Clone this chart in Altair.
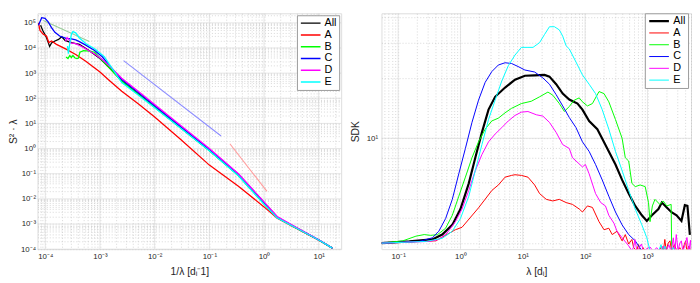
import altair as alt
import pandas as pd

SERIES = ["All", "A", "B", "C", "D", "E"]
COLORS = ["#000000", "#ff0000", "#00ff00", "#0000ff", "#ff00ff", "#00ffff"]

# ---------------- left panel: S^2 * lambda vs 1/lambda ----------------
L_ALL_X = [8.2e-5, 9.0e-5, 1.05e-4, 1.2e-4, 1.3e-4, 1.5e-4, 1.75e-4, 2.0e-4, 2.3e-4, 2.8e-4, 3.6e-4, 4.2e-4, 6.3e-4, 1.0e-3,
           1.5e-3, 2.5e-3, 5e-3, 1e-2, 3e-2, 0.1, 0.34, 1.0, 1.74, 4.0, 10.0, 17.8]
L_ALL_Y = [8e4, 5e4, 2.6e4, 1.15e4, 1.6e4, 1.9e4, 2.2e4, 2.8e4, 2.0e4, 1.7e4, 1.5e4, 1.4e4, 8e3, 3.8e3,
           1.6e3, 500, 150, 45, 6.7, 0.84, 0.087, 6.5e-3, 1.8e-3, 6.7e-4, 2.3e-4, 1.1e-4]
L_A_X = [7.5e-5, 8.0e-5, 9.2e-5, 1.05e-4, 1.16e-4, 1.3e-4, 1.6e-4, 2.4e-4, 3.6e-4, 5.5e-4, 1.0e-3,
         1.5e-3, 2.5e-3, 5e-3, 1e-2, 3e-2, 0.1, 0.34, 1.0, 1.74, 4.0, 10.0, 17.8]
L_A_Y = [1.0e5, 5e4, 3.5e4, 3e4, 1.65e4, 1.9e4, 1.4e4, 9e3, 5.5e3, 3e3, 1.1e3,
         500, 190, 60, 18, 2.3, 0.22, 0.032, 4.8e-3, 1.7e-3, 6.5e-4, 2.25e-4, 1.1e-4]
L_B_X = [2.4e-4, 2.6e-4, 2.8e-4, 3.0e-4, 3.2e-4, 3.5e-4, 3.8e-4, 4.0e-4, 4.3e-4, 5.0e-4, 6.5e-4, 8.0e-4, 1.0e-3,
         1.5e-3, 2.5e-3, 5e-3, 1e-2, 3e-2, 0.1, 0.34, 1.0, 1.74, 4.0, 10.0, 17.8]
L_B_Y = [4.4e3, 3.8e3, 5e3, 4.2e3, 5e3, 4e3, 3.8e3, 3.9e3, 6.8e3, 7.9e3, 7.5e3, 6.8e3, 4e3,
         1.6e3, 480, 145, 44, 6.6, 0.83, 0.085, 6.4e-3, 1.8e-3, 6.7e-4, 2.3e-4, 1.1e-4]
L_C_X = [7.5e-5, 8.6e-5, 9.9e-5, 1.13e-4, 1.3e-4, 1.5e-4, 1.83e-4, 2.4e-4, 3.0e-4, 3.6e-4, 4.2e-4, 5.5e-4, 8.0e-4, 1.1e-3,
         1.5e-3, 2.5e-3, 5e-3, 1e-2, 3e-2, 0.1, 0.34, 1.0, 1.74, 4.0, 10.0, 17.8]
L_C_Y = [8e4, 1.6e5, 1.5e5, 1.1e5, 6.5e4, 4.2e4, 3e4, 2.4e4, 2.3e4, 2.1e4, 1.8e4, 1.3e4, 8e3, 4.5e3,
         2.0e3, 560, 170, 50, 7.4, 0.92, 0.095, 7.2e-3, 1.9e-3, 6.9e-4, 2.35e-4, 1.1e-4]
L_D_X = [2.35e-4, 2.5e-4, 2.7e-4, 2.9e-4, 3.6e-4, 4.8e-4, 8.2e-4, 1.1e-3,
         1.5e-3, 2.5e-3, 5e-3, 1e-2, 3e-2, 0.1, 0.34, 1.0, 1.74, 4.0, 10.0, 17.8]
L_D_Y = [1.8e4, 2.6e4, 2.2e4, 1.6e4, 1.5e4, 1.1e4, 5.5e3, 3.5e3,
         1.9e3, 630, 190, 56, 8.2, 1.0, 0.10, 7.6e-3, 2.0e-3, 7.0e-4, 2.35e-4, 1.1e-4]
L_E_X = [2.55e-4, 2.65e-4, 2.8e-4, 3.0e-4, 3.2e-4, 3.6e-4, 4.2e-4, 5.5e-4, 8.2e-4, 1.2e-3,
         1.5e-3, 2.5e-3, 5e-3, 1e-2, 3e-2, 0.1, 0.34, 1.0, 1.74, 4.0, 10.0, 17.8]
L_E_Y = [1.2e4, 6e3, 1.5e4, 3.5e4, 4.5e4, 4e4, 2.5e4, 1.5e4, 9e3, 4.5e3,
         2.2e3, 420, 135, 42, 6.5, 0.82, 0.083, 6.2e-3, 1.75e-3, 6.6e-4, 2.3e-4, 1.1e-4]

# reference slopes (start, end)
REF_COLORS = ["#99cc99", "#8c8cff", "#ff9c9c"]
REF_X = [[9.2e-5, 6.4e-4], [2.7e-3, 0.164], [0.237, 1.13]]
REF_Y = [[1.25e5, 1.8e4], [3.16e3, 3.16], [1.56, 0.02]]

# ---------------- right panel: SDK vs lambda ----------------
R_ALL_X = [0.054, 0.151, 0.355, 0.51, 0.74, 1.0, 1.36, 1.73, 2.21, 2.82, 3.6, 5.2, 7.5, 10.8, 15.5, 22.3, 26.8,
           34.3, 43.7, 55.7, 75.5, 90.6, 116, 157, 178, 240, 307, 392, 500, 637, 813, 977, 1180, 1500, 1700,
           2040, 2430, 2930, 3510, 3980, 4380, 4790]
R_ALL_Y = [3.0, 3.06, 3.13, 3.31, 3.70, 4.44, 5.96, 8.0, 10.7, 13.9, 16.1, 17.9, 19.6, 20.5, 20.6, 20.7, 20.3,
           18.6, 16.7, 15.6, 14.9, 13.9, 12.2, 11.1, 10.3, 8.6, 7.4, 6.2, 5.3, 4.6, 4.13, 3.87, 4.13, 4.44, 4.78,
           4.52, 4.28, 4.13, 3.87, 4.64, 4.6, 3.3]
R_A_X = [0.054, 0.40, 0.83, 1.06, 1.95, 3.2, 4.06, 5.2, 6.6, 7.5, 9.5, 12.1, 15.5, 18.6, 23.8, 30.3, 38.6, 49.6,
         62.7, 80.4, 90.6, 109, 131, 167, 201, 240, 272, 325, 392, 441, 500, 563, 600, 670, 720, 780, 850, 950,
         1100, 1300, 1500, 1700, 1800, 1900, 2000, 2150, 2300, 2450, 2700, 3000, 3300, 3600, 3900, 4100, 4300,
         4600, 5000]
R_A_Y = [3.0, 3.08, 3.5, 3.6, 4.5, 5.5, 5.85, 6.4, 6.53, 6.58, 6.53, 6.4, 5.85, 5.3, 4.96, 4.87, 4.96, 4.78,
         4.68, 4.44, 4.29, 4.6, 4.52, 3.84, 3.5, 3.56, 3.31, 3.44, 3.08, 3.31, 2.97, 3.13, 2.85, 2.75, 2.95, 2.72,
         2.85, 2.7, 2.7, 2.7, 2.72, 2.9, 2.72, 3.13, 2.75, 3.0, 3.08, 2.72, 2.95, 2.72, 2.85, 2.72, 2.95, 3.08,
         2.72, 2.9, 2.72]
R_B_X = [0.054, 0.119, 0.193, 0.262, 0.334, 0.43, 0.578, 0.74, 0.94, 1.2, 1.53, 1.95, 2.49, 3.18, 4.06, 5.2,
         6.6, 9.5, 13.7, 18.6, 25.3, 30.3, 38.6, 46.5, 55.7, 67, 80.4, 90.6, 109, 131, 167, 201, 240, 307, 392,
         441, 500, 563, 637, 764, 920, 1040, 1100, 1200, 1320, 1580, 1790, 2040, 2400, 2450]
R_B_Y = [3.0, 3.08, 3.25, 3.31, 3.28, 3.31, 3.56, 4.13, 5.14, 6.4, 8.0, 9.6, 11.1, 12.2, 12.6, 13.4,
         14.1, 14.9, 15.3, 16.1, 17.0, 16.4, 14.9, 13.6, 14.4, 15.5, 15.9, 15.2, 14.5, 14.9, 17.1, 16.7, 15.2,
         12.4, 10.0, 8.0, 7.7, 5.96, 5.74, 5.85, 5.74, 4.78, 3.84, 4.6, 4.96, 4.68, 4.87, 4.6, 4.68, 2.7]
R_C_X = [0.054, 0.218, 0.355, 0.45, 0.578, 0.74, 0.94, 1.2, 1.53, 1.95, 2.49, 3.18, 4.06, 5.2, 6.6, 8.4, 10.8,
         15.5, 21, 26.8, 34.3, 43.7, 55.7, 71.4, 90.6, 116, 147, 188, 240, 307, 392, 500, 637, 813]
R_C_Y = [3.0, 3.06, 3.19, 3.44, 3.98, 4.96, 6.65, 8.9, 12, 15.5, 19, 21.5, 23.2, 23.8, 23.6, 22.8, 21.9,
         21.4, 20, 18.6, 16.5, 14.5, 12.7, 11.3, 9.6, 8.6, 7.4, 6.2, 5.14, 4.29, 3.70, 3.31, 3.08, 2.75]
R_D_X = [0.054, 0.315, 0.45, 0.61, 0.83, 1.06, 1.36, 1.73, 2.21, 2.82, 3.6, 4.6, 5.85, 7.5, 9.5, 12.1, 16.5,
         21, 26.8, 34.3, 43.7, 55.7, 62.7, 90.6, 101, 116, 147, 178, 212, 240, 290, 325, 392, 500, 560, 600,
         630, 680, 740, 800, 870, 950, 1100, 1250, 1400, 1600, 1800, 2000, 2200, 2400, 2600, 2750, 2900, 3100,
         3300, 3500, 3700, 4000, 4300, 4600, 4900, 5000]
R_D_Y = [3.0, 3.06, 3.13, 3.37, 3.84, 4.44, 5.5, 6.9, 8.3, 9.6, 10.5, 11.3, 12.2, 13.0, 13.5, 13.6, 13.1,
         12.9, 12.0, 10.7, 9.3, 8.9, 8.0, 7.2, 7.4, 6.65, 5.3, 4.78, 4.6, 4.13, 3.77, 3.44, 3.19, 2.91, 2.75, 2.87,
         3.13, 2.72, 2.85, 2.97, 2.72, 2.8, 2.87, 2.72, 2.85, 2.72, 2.9, 2.72, 2.95, 2.72, 3.19, 2.72, 3.31, 2.75,
         3.0, 3.08, 2.72, 2.95, 3.2, 2.72, 3.1, 2.8]
R_E_X = [0.054, 0.278, 0.51, 0.74, 1.0, 1.36, 1.73, 2.21, 2.82, 3.6, 4.6, 5.85, 7.5, 9.5, 12.1, 14.6, 18.6,
         22.3, 26.8, 32.2, 38.6, 43.7, 49.6, 55.7, 71.4, 90.6, 116, 147, 188, 240, 307, 392, 500, 637, 813, 977,
         1100, 1300, 1500, 1650, 1750, 1900, 2050, 2300, 2600, 2800, 3300, 3600, 4200]
R_E_Y = [3.0, 3.06, 3.17, 3.44, 3.98, 5.14, 6.9, 9.3, 12.4, 15.5, 19.3, 23.0, 26.0, 28.4, 28.4, 28.4, 30,
         32.9, 36, 36, 34.7, 32.3, 28.9, 27.9, 24, 20.7, 18.6, 16.7, 13.9, 11.1, 8.6, 6.9, 5.5, 4.44, 3.70, 3.19,
         2.75, 2.72, 2.72, 2.95, 2.72, 2.9, 2.72, 2.72, 2.85, 2.72, 2.72, 2.72, 2.72]

LEFT = {"All": (L_ALL_X, L_ALL_Y), "A": (L_A_X, L_A_Y), "B": (L_B_X, L_B_Y),
        "C": (L_C_X, L_C_Y), "D": (L_D_X, L_D_Y), "E": (L_E_X, L_E_Y)}
RIGHT = {"All": (R_ALL_X, R_ALL_Y), "A": (R_A_X, R_A_Y), "B": (R_B_X, R_B_Y),
         "C": (R_C_X, R_C_Y), "D": (R_D_X, R_D_Y), "E": (R_E_X, R_E_Y)}


def long_df(d):
    rows = []
    for s in SERIES:
        xs, ys = d[s]
        for i, (x, y) in enumerate(zip(xs, ys)):
            rows.append({"s": s, "x": x, "y": y, "i": i})
    return pd.DataFrame(rows)


left_df = long_df(LEFT)
right_df = long_df(RIGHT)

SUP = str.maketrans("-0123456789", "⁻⁰¹²³⁴⁵⁶⁷⁸⁹")


def log_ticks(e0, e1, lo, hi):
    majors, allv = [], []
    for e in range(e0, e1 + 1):
        base = float(f"1e{e}")
        for m in range(1, 10):
            v = base if m == 1 else m * base
            if lo * 0.999 <= v <= hi * 1.001:
                allv.append(v)
                if m == 1:
                    majors.append((v, e))
    expr = " : ".join(f"datum.value == {v!r} ? '10{str(e).translate(SUP)}'" for v, e in majors) + " : ''"
    return allv, [v for v, _ in majors], expr


FONT = "Liberation Sans"
TXT = "#262626"
MINOR = dict(gridDash=[1, 2], gridColor="#bdbdbd", gridWidth=0.6)


def make_axis(values, expr, title, **kw):
    return alt.Axis(values=values, labelExpr=expr, title=title, grid=True, ticks=False, domain=False,
                    labelOverlap=False, labelFont=FONT, labelFontSize=8, labelColor=TXT,
                    titleFont=FONT, titleFontSize=10.5, titleFontWeight="normal", titleColor=TXT,
                    **MINOR, **kw)


def panel(df, xdom, ydom, xt, yt, xtitle, ytitle, legend_xy, widths, ylab_pad, ytitle_pad):
    xall, xmaj, xexpr = log_ticks(*xt, *xdom)
    yall, ymaj, yexpr = log_ticks(*yt, *ydom)
    xs = alt.Scale(type="log", domain=xdom, nice=False)
    ys = alt.Scale(type="log", domain=ydom, nice=False)
    xax = make_axis(xall, xexpr, xtitle, labelPadding=4, titlePadding=6)
    yax = make_axis(yall, yexpr, ytitle, labelPadding=ylab_pad, titlePadding=ytitle_pad)
    vgrid = alt.Chart(pd.DataFrame({"v": xmaj})).mark_rule(color="#dadada", strokeWidth=0.7).encode(
        x=alt.X("v:Q", scale=xs, axis=xax))
    hgrid = alt.Chart(pd.DataFrame({"v": ymaj})).mark_rule(color="#dadada", strokeWidth=0.7).encode(
        y=alt.Y("v:Q", scale=ys, axis=yax))
    leg = alt.Legend(title=None, orient="none", legendX=legend_xy[0], legendY=legend_xy[1],
                     symbolType="stroke", symbolSize=400, symbolStrokeWidth=1.5, clipHeight=12,
                     labelFont=FONT, labelFontSize=11, labelColor="#000000", padding=2,
                     strokeColor="#9a9a9a", fillColor="white", rowPadding=0, labelOffset=3,
                     symbolOffset=1)
    enc = dict(
        x=alt.X("x:Q", scale=xs, axis=xax),
        y=alt.Y("y:Q", scale=ys, axis=yax),
        color=alt.Color("s:N", scale=alt.Scale(domain=SERIES, range=COLORS), legend=leg),
        order=alt.Order("i:Q"),
    )
    if widths is None:
        lines = alt.Chart(df).mark_line(strokeWidth=1.3, clip=True).encode(**enc)
    else:
        enc["strokeWidth"] = alt.StrokeWidth(
            "s:N", scale=alt.Scale(type="ordinal", domain=SERIES, range=widths), legend=leg)
        lines = alt.Chart(df).mark_line(clip=True).encode(**enc)
    return [vgrid, hgrid, lines], xs, ys, xax, yax


lp, lxs, lys, lxax, lyax = panel(left_df, [7.2e-5, 25.7], [1e-4, 2.4e5], (-5, 1), (-4, 5),
                                 "1/λ [dᵢ⁻1]", "S² · λ", (264, 2), None, 2, 2)
refs = []
for c, xs_, ys_ in zip(REF_COLORS, REF_X, REF_Y):
    refs.append(alt.Chart(pd.DataFrame({"x": xs_, "y": ys_})).mark_line(
        strokeWidth=1.1, clip=True, color=c).encode(
        x=alt.X("x:Q", scale=lxs, axis=lxax),
        y=alt.Y("y:Q", scale=lys, axis=lyax)))
left = alt.layer(lp[0], lp[1], *refs, lp[2]).properties(width=309, height=240)

rp, _, _, _, _ = panel(right_df, [0.054, 5000], [2.8, 42], (-2, 3), (0, 1),
                       "λ [dᵢ]", "SDK", (268, 0), [2.2, 1, 1, 1, 1, 1], 4, 6)
right = alt.layer(*rp).properties(width=315, height=240)

chart = alt.hconcat(left, right, spacing=7).resolve_scale(
    color="independent", strokeWidth="independent", x="independent", y="independent"
).resolve_legend(color="independent", strokeWidth="independent").properties(
    padding={"left": 0, "top": 0, "right": 0, "bottom": 0}
).configure_view(stroke="#8c8c8c", strokeWidth=1).configure(background="white")

chart.save("out.html", embed_options={"renderer": "svg", "actions": False})
